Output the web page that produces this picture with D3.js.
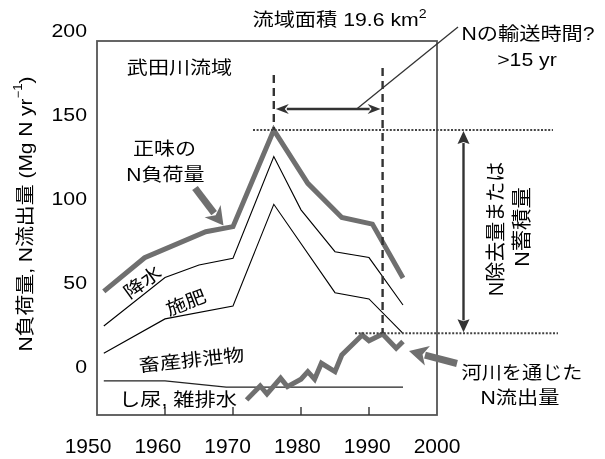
<!DOCTYPE html>
<html><head><meta charset="utf-8">
<script src="https://cdn.jsdelivr.net/npm/d3@7"></script>
<style>html,body{margin:0;padding:0;background:#fff;}svg{display:block;}</style>
</head><body>
<script>
// ---------- data ----------
const netYears    = [1951, 1957, 1966, 1970, 1976, 1981, 1986, 1990.5, 1995];
const netValues   = [45, 65, 80.5, 83.5, 141, 109.3, 89, 85, 53];
const upperYears  = [1951, 1960, 1965, 1970, 1976, 1980, 1985, 1990, 1995];
const upperValues = [24.4, 53.2, 60.7, 64.7, 125.2, 93.5, 68.6, 65.1, 36.9];
const lowerYears  = [1951, 1960, 1970, 1976, 1985, 1990, 1995];
const lowerValues = [8.2, 28.6, 36.3, 96.8, 44.2, 40.5, 20];
const sewageYears = [1951, 1960, 1969, 1995];
const sewageValues= [-8.3, -8.3, -12, -12];
const riverYears  = [1972, 1974, 1975, 1977, 1978, 1980, 1981, 1982, 1983, 1985, 1986, 1989, 1990, 1992, 1994, 1995];
const riverValues = [-19.6, -11.3, -16.1, -6.7, -11.7, -7.3, -2.8, -7.3, 2.2, -2.8, 7.1, 19, 15.6, 19.6, 11.1, 15.1];
const xTickLabels = [1950, 1960, 1970, 1980, 1990, 2000];
const xInnerTicks = [1960, 1970, 1980, 1990];
const yTickLabels = [0, 50, 100, 150, 200];
const peakYear = 1976, lagYear = 1992, peakValue = 141, outflowMax = 20;

// ---------- setup ----------
const W = 605, H = 459;
const svg = d3.select("body").append("svg").attr("width", W).attr("height", H)
  .style("font-family", "'Liberation Sans', Arial, 'Noto Sans CJK JP', sans-serif");
svg.append("rect").attr("width", W).attr("height", H).attr("fill", "#fff");

const x = d3.scaleLinear().domain([1950, 2000]).range([97, 437]);
const y = d3.scaleLinear().domain([-28.6, 194]).range([415, 41]);
const xLab = d3.scaleLinear().domain([1950, 2000]).range([88, 437]);

const marks = svg.append("g");
const textLayer = svg.append("g").attr("opacity", 0.999);

function txt(s, px, py, o = {}) {
  const fs = o.fs || 18, sx = o.sx || 1.18, rot = o.rot || 0;
  const t = textLayer.append("text")
    .attr("transform", `translate(${px},${py}) rotate(${rot}) scale(${sx},1)`)
    .attr("font-size", fs).attr("text-anchor", o.anchor || "middle")
    .attr("dominant-baseline", "central").attr("fill", o.fill || "#000");
  if (Array.isArray(s)) {
    s.forEach(p => {
      if (typeof p === "string") { t.append("tspan").text(p); return; }
      const ts = t.append("tspan").text(p.t);
      if (p.fs) ts.attr("font-size", p.fs);
      if (p.dy) ts.attr("dy", p.dy);
    });
  } else t.text(s);
  return t;
}

// frame
marks.append("rect").attr("x", x(1950)).attr("y", y(194)).attr("width", x(2000) - x(1950))
  .attr("height", y(-28.6) - y(194)).attr("fill", "none").attr("stroke", "#555").attr("stroke-width", 1.8);

// inner ticks at bottom
marks.selectAll(".itick").data(xInnerTicks).join("line")
  .attr("x1", d => x(d)).attr("x2", d => x(d)).attr("y1", y(-28.6)).attr("y2", y(-28.6) - 8)
  .attr("stroke", "#333").attr("stroke-width", 1.4);

// tick labels
xTickLabels.forEach(d => txt(String(d), xLab(d), 445.5, {fs: 21, sx: 1.0}));
yTickLabels.forEach(d => txt(String(d), 87, y(d), {fs: 18.5, sx: 1.15, anchor: "end"}));

// lines
const line = d3.line().x(d => x(d[0])).y(d => y(d[1]));
const zip = (a, b) => a.map((v, i) => [v, b[i]]);
marks.append("path").datum(zip(upperYears, upperValues)).attr("d", line)
  .attr("fill", "none").attr("stroke", "#000").attr("stroke-width", 1.1);
marks.append("path").datum(zip(lowerYears, lowerValues)).attr("d", line)
  .attr("fill", "none").attr("stroke", "#000").attr("stroke-width", 1.1);
marks.append("path").datum(zip(sewageYears, sewageValues)).attr("d", line)
  .attr("fill", "none").attr("stroke", "#222").attr("stroke-width", 1.3);
marks.append("path").datum(zip(netYears, netValues)).attr("d", line)
  .attr("fill", "none").attr("stroke", "#6f6f6f").attr("stroke-width", 5).attr("stroke-linejoin", "miter");
marks.append("path").datum(zip(riverYears, riverValues)).attr("d", line)
  .attr("fill", "none").attr("stroke", "#6f6f6f").attr("stroke-width", 5).attr("stroke-linejoin", "miter");

// dashed verticals
marks.append("line").attr("x1", x(peakYear)).attr("x2", x(peakYear)).attr("y1", 75).attr("y2", y(peakValue))
  .attr("stroke", "#333").attr("stroke-width", 2.4).attr("stroke-dasharray", "8,5");
marks.append("line").attr("x1", x(lagYear)).attr("x2", x(lagYear)).attr("y1", 68).attr("y2", y(outflowMax))
  .attr("stroke", "#333").attr("stroke-width", 2.4).attr("stroke-dasharray", "8,5");

// dotted horizontals
marks.append("line").attr("x1", 253).attr("x2", 553).attr("y1", y(peakValue)).attr("y2", y(peakValue))
  .attr("stroke", "#444").attr("stroke-width", 2).attr("stroke-dasharray", "2,1.6");
marks.append("line").attr("x1", 355).attr("x2", 558).attr("y1", y(outflowMax)).attr("y2", y(outflowMax))
  .attr("stroke", "#444").attr("stroke-width", 2).attr("stroke-dasharray", "2,1.6");

// arrow helpers
function head(px, py, ang, len, hw, fill, notch = 0) {
  const c = Math.cos(ang), s = Math.sin(ang);
  const bx = px - c * len, by = py - s * len;
  const nx = px - c * (len - notch), ny = py - s * (len - notch);
  const pts = [[px, py], [bx - s * hw, by + c * hw], [nx, ny], [bx + s * hw, by - c * hw]];
  marks.append("path").attr("d", "M" + pts.map(p => p.join(",")).join("L") + "Z").attr("fill", fill);
}
function arrow(x1, y1, x2, y2, o) {
  const ang = Math.atan2(y2 - y1, x2 - x1);
  const back = o.len - (o.notch || 0) * 0.5;
  const sx = o.both ? x1 + Math.cos(ang) * back : x1, sy = o.both ? y1 + Math.sin(ang) * back : y1;
  const ex = x2 - Math.cos(ang) * back, ey = y2 - Math.sin(ang) * back;
  marks.append("line").attr("x1", sx).attr("y1", sy).attr("x2", ex).attr("y2", ey)
    .attr("stroke", o.color).attr("stroke-width", o.w);
  head(x2, y2, ang, o.len, o.hw, o.color, o.notch || 0);
  if (o.both) head(x1, y1, ang + Math.PI, o.len, o.hw, o.color, o.notch || 0);
}

// horizontal transport-time arrow
const arrY = 109;
arrow(x(peakYear) + 2, arrY, x(lagYear) - 2, arrY, {color: "#333", w: 2.4, len: 13, hw: 5, notch: 4, both: true});
marks.append("line").attr("x1", 356.7).attr("y1", arrY).attr("x2", 458).attr("y2", 27)
  .attr("stroke", "#333").attr("stroke-width", 1.3);

// vertical removal arrow
arrow(463.5, y(peakValue) + 1, 463.5, y(outflowMax) - 1, {color: "#333", w: 2.4, len: 13, hw: 6, notch: 2, both: true});

// gray pointer arrows
arrow(195, 188, 223.5, 225.5, {color: "#6f6f6f", w: 7, len: 18, hw: 10, notch: 5});
arrow(457, 363.5, 409, 351, {color: "#6f6f6f", w: 7, len: 19, hw: 10, notch: 5});

// texts
txt(["流域面積 19.6 km", {t: "2", fs: 12, dy: -7}], 339.5, 20, {fs: 18, sx: 1.18});
txt("Nの輸送時間?", 528, 34, {fs: 18, sx: 1.18});
txt(">15 yr", 527, 59.5, {fs: 18, sx: 1.18});
txt("武田川流域", 179.5, 67.5, {fs: 18, sx: 1.17});
txt("正味の", 164.5, 148.5, {fs: 18, sx: 1.17});
txt("N負荷量", 165.5, 175, {fs: 18, sx: 1.17});
txt("降水", 142.5, 282, {fs: 18, sx: 1.15, rot: -36});
txt("施肥", 186, 302.5, {fs: 18, sx: 1.15, rot: -21});
txt("畜産排泄物", 191.5, 360, {fs: 18, sx: 1.18, rot: -6});
txt("し尿, 雑排水", 178, 400, {fs: 18, sx: 1.18});
txt("河川を通じた", 522, 372.5, {fs: 18, sx: 1.12});
txt("N流出量", 520, 397.5, {fs: 18, sx: 1.18});
txt("N除去量または", 496, 229, {fs: 20, sx: 1.0, rot: -90});
txt("N蓄積量", 522, 227, {fs: 20, sx: 1.07, rot: -90});
txt(["N負荷量, N流出量 (Mg N yr", {t: "−1", fs: 12, dy: -7}, {t: ")", dy: 7}], 25, 214, {fs: 19, sx: 1.1, rot: -90});
</script>
</body></html>
